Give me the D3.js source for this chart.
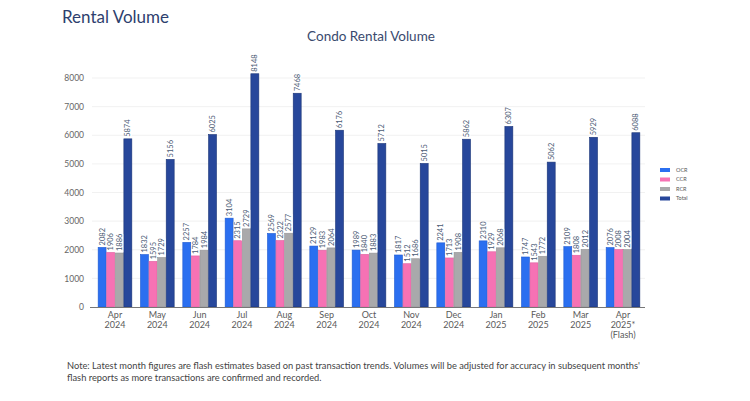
<!DOCTYPE html>
<html><head><meta charset="utf-8">
<script src="https://cdn.jsdelivr.net/npm/d3@7"></script>
<style>body{margin:0;background:#fff;} svg{display:block;font-family:Lato,"Open Sans",sans-serif;}</style>
</head><body>
<svg id="c" width="750" height="401"></svg>
<script>
const months = [["Apr","2024"],["May","2024"],["Jun","2024"],["Jul","2024"],["Aug","2024"],["Sep","2024"],["Oct","2024"],["Nov","2024"],["Dec","2024"],["Jan","2025"],["Feb","2025"],["Mar","2025"],["Apr","2025*","(Flash)"]];
const seriesNames = ["OCR","CCR","RCR","Total"];
const ocr   = [2082,1832,2257,3104,2569,2129,1989,1817,2241,2310,1747,2109,2076];
const ccr   = [1906,1595,1784,2315,2322,1983,1840,1512,1713,1929,1543,1808,2008];
const rcr   = [1886,1729,1984,2729,2577,2064,1883,1686,1908,2068,1772,2012,2004];
const total = [5874,5156,6025,8148,7468,6176,5712,5015,5862,6307,5062,5929,6088];
const yTicks = [0,1000,2000,3000,4000,5000,6000,7000,8000];
const colors = ["#2b6ff0","#f672b4","#a9a9ab","#27479b"];
const strokes = ["#1f5ad0","#e060a0","#959597","#1b3577"];

const svg = d3.select("#c");
const values = [ocr,ccr,rcr,total];
const idx = d3.range(months.length);

const x0 = d3.scaleBand().domain(idx).range([97,641]).paddingInner(0.19).paddingOuter(0.02);
const x1 = d3.scaleBand().domain(d3.range(4)).range([0,x0.bandwidth()]).padding(0);
const y = d3.scaleLinear().domain([0,8000]).range([307,78]);

svg.append("text").attr("x",62).attr("y",23).attr("font-size",17).attr("fill","#2e3f6e").text("Rental Volume");
svg.append("text").attr("x",371).attr("y",41).attr("text-anchor","middle").attr("font-size",13.5).attr("fill","#3a4a6e").text("Condo Rental Volume");

// grid
svg.append("g").selectAll("line").data(yTicks.filter(d=>d>0)).join("line")
  .attr("x1",92).attr("x2",645).attr("y1",d=>y(d)).attr("y2",d=>y(d))
  .attr("stroke","#ededed").attr("stroke-width",0.8);

// y axis labels
const yAxis = d3.axisLeft(y).tickValues(yTicks).tickFormat(d3.format("d")).tickSize(0).tickPadding(6);
const ga = svg.append("g").attr("transform","translate(90,0)").call(yAxis);
ga.select(".domain").remove();
ga.selectAll("text").attr("font-size",8.5).attr("fill","#666").attr("font-family","Lato,sans-serif");

// bars
const groups = svg.append("g").selectAll("g").data(idx).join("g")
  .attr("transform",d=>`translate(${x0(d)},0)`);
groups.selectAll("rect").data(i=>values.map((v,s)=>({s,v:v[i]}))).join("rect")
  .attr("x",d=>x1(d.s)+0.3).attr("width",x1.bandwidth()-0.6)
  .attr("y",d=>y(d.v)).attr("height",d=>y(0)-y(d.v))
  .attr("fill",d=>colors[d.s]).attr("stroke",d=>strokes[d.s]).attr("stroke-width",0.6);

// labels
const lab = groups.selectAll("g.lab").data(i=>values.map((v,s)=>({s,v:v[i]}))).join("g").attr("class","lab")
  .attr("transform",d=>`translate(${x1(d.s)+x1.bandwidth()/2},${y(d.v)-2}) rotate(-90)`);
lab.append("rect").attr("x",-1).attr("y",-4).attr("width",18).attr("height",8).attr("fill","#fff");
lab.append("text").attr("x",0).attr("y",0).attr("dy","0.35em").attr("font-size",7.5).attr("fill","#4a5a74")
  .text(d=>d.v);

// x axis line
svg.append("line").attr("x1",90).attr("x2",645).attr("y1",307.5).attr("y2",307.5).attr("stroke","#777").attr("stroke-width",1);

// x labels
const xl = svg.append("g").selectAll("text").data(idx).join("text")
  .attr("x",d=>x0(d)+x0.bandwidth()/2).attr("y",318).attr("text-anchor","middle")
  .attr("font-size",9).attr("fill","#5a5a5a");
xl.selectAll("tspan").data(d=>months[d].map((t,k)=>({t,k}))).join("tspan")
  .attr("x",function(){return d3.select(this.parentNode).attr("x");})
  .attr("dy",(d)=>d.k===0?0:10).text(d=>d.t);

// legend
const lg = svg.append("g").attr("transform","translate(660,168)");
seriesNames.forEach((n,i)=>{
  lg.append("rect").attr("x",0).attr("y",i*9.5).attr("width",10).attr("height",4).attr("fill",colors[i]);
  lg.append("text").attr("x",16).attr("y",i*9.5+2).attr("dy","0.35em").attr("font-size",5.5).attr("fill","#555").text(n);
});

// footnote
const fn = svg.append("text").attr("x",67).attr("y",369).attr("font-size",9.3).attr("fill","#444");
fn.append("tspan").attr("x",67).text("Note: Latest month figures are flash estimates based on past transaction trends. Volumes will be adjusted for accuracy in subsequent months'");
fn.append("tspan").attr("x",67).attr("dy",12).text("flash reports as more transactions are confirmed and recorded.");
</script>
</body></html>
